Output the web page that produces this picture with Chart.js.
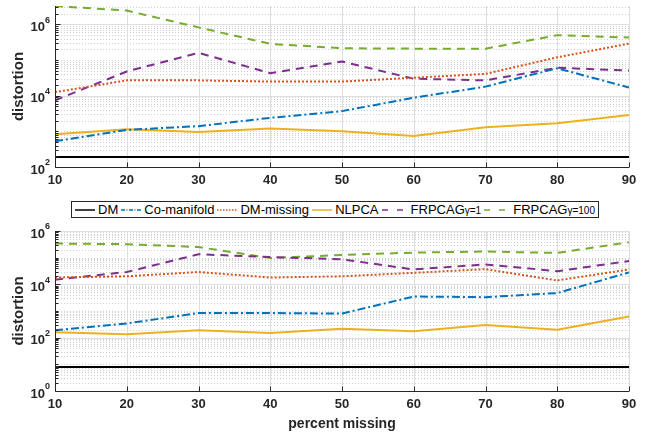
<!DOCTYPE html>
<html>
<head>
<meta charset="utf-8">
<script src="https://cdn.jsdelivr.net/npm/chart.js@4/dist/chart.umd.min.js"></script>
<style>
  html, body { margin:0; padding:0; background:#fff; }
  #wrap { position:relative; width:645px; height:434px; overflow:hidden; font-family:'Liberation Sans', Arial, Helvetica, sans-serif; }
  canvas { position:absolute; left:0; }
  #legend { position:absolute; z-index:2; left:71px; top:201px; width:528px; height:17px; border:1px solid #262626; background:#fff; box-sizing:border-box;
    font-size:13px; color:#000; white-space:nowrap; display:flex; align-items:center; justify-content:space-between; padding:0 3px 0 3px; }
  #legend .it { display:flex; align-items:center; }
  #legend svg { margin-right:3px; }
  #legend span { line-height:15px; }
  #legend small { font-size:10px; }
</style>
</head>
<body>
<div id="wrap">
  <canvas id="c1" width="645" height="195" style="top:0;width:645px;height:195px"></canvas>
  <canvas id="c2" width="645" height="219" style="top:215px;width:645px;height:219px"></canvas>
  <div id="legend"></div>
</div>
<script>
// ---------------- data ----------------
const percentMissing = [10, 20, 30, 40, 50, 60, 70, 80, 90];
const seriesNames = ['DM', 'Co-manifold', 'DM-missing', 'NLPCA', 'FRPCAG\u03b3=1', 'FRPCAG\u03b3=100'];

// top panel
const dmTop        = [190, 190, 190, 190, 190, 190, 190, 190, 190];
const comanTop     = [525, 1100, 1400, 2400, 3700, 8800, 18000, 59000, 17000];
const dmMissTop    = [12600, 27000, 27000, 25000, 25000, 32000, 41000, 120000, 290000];
const nlpcaTop     = [830, 1140, 955, 1200, 1000, 740, 1300, 1700, 2900];
const frpcag1Top   = [7400, 48000, 160000, 43000, 91000, 30000, 27000, 61000, 51000];
const frpcag100Top = [3300000, 2450000, 830000, 286000, 215000, 210000, 210000, 500000, 430000];

// bottom panel
const dmBot        = [7.9, 7.9, 7.9, 7.9, 7.9, 7.9, 7.9, 7.9, 7.9];
const comanBot     = [190, 340, 840, 840, 800, 3500, 3300, 4700, 28000];
const dmMissBot    = [18000, 20000, 29000, 18000, 20000, 27000, 37000, 14000, 36000];
const nlpcaBot     = [160, 134, 190, 150, 218, 174, 297, 200, 620];
const frpcag1Bot   = [15000, 29000, 134000, 106000, 87000, 36000, 56000, 31000, 75000];
const frpcag100Bot = [340000, 320000, 250000, 97000, 126000, 155000, 170000, 150000, 380000];

const yLabelExponents = [0, 2, 4, 6];

// ---------------- styles ----------------
const FONT = "'Liberation Sans', Arial, Helvetica, sans-serif";
const styles = [
  { color: '#000000', dash: [], legendDash: [], lw: 20 },
  { color: '#0072BD', dash: [8, 3, 2, 3], legendDash: [4, 1.5, 1, 1.5], lw: 20 },
  { color: '#D95319', dash: [2, 2], legendDash: [1.5, 1.5], lw: 20 },
  { color: '#EDB120', dash: [], legendDash: [], lw: 20 },
  { color: '#7E2F8E', dash: [8, 6], legendDash: [6, 9], lw: 26 },
  { color: '#77AC30', dash: [8, 6], legendDash: [6, 9], lw: 26 }
];

function makeDatasets(arrs) {
  return arrs.map((vals, i) => ({
    label: seriesNames[i],
    data: percentMissing.map((p, j) => ({ x: p, y: vals[j] })),
    borderColor: styles[i].color,
    borderDash: styles[i].dash,
    borderWidth: 2,
    borderCapStyle: 'butt',
    pointRadius: 0,
    fill: false,
    tension: 0
  }));
}

const AX = '#262626';

const matlabAxes = {
  id: 'matlabAxes',
  beforeDatasetsDraw(chart) {
    const { ctx, chartArea: a, scales: { x, y } } = chart;
    ctx.save();
    const lo = Math.floor(Math.log10(y.min)), hi = Math.ceil(Math.log10(y.max));
    ctx.lineWidth = 1;
    for (let d = lo; d <= hi; d++) {
      for (let m = 1; m <= 9; m++) {
        const v = m * Math.pow(10, d);
        if (v < y.min * 0.999 || v > y.max * 1.001) continue;
        const major = (m === 1 && d % 2 === 0);
        const py = Math.round(y.getPixelForValue(v)) + 0.5;
        ctx.beginPath();
        if (major) { ctx.setLineDash([]); ctx.strokeStyle = '#dedede'; }
        else { ctx.setLineDash([1, 2]); ctx.strokeStyle = '#cfcfcf'; }
        ctx.moveTo(a.left, py); ctx.lineTo(a.right, py); ctx.stroke();
      }
    }
    ctx.setLineDash([]);
    ctx.strokeStyle = '#dedede';
    percentMissing.forEach(p => {
      const px = Math.round(x.getPixelForValue(p)) + 0.5;
      ctx.beginPath(); ctx.moveTo(px, a.top); ctx.lineTo(px, a.bottom); ctx.stroke();
    });
    ctx.restore();
  },
  afterDatasetsDraw(chart, args, opts) {
    const { ctx, chartArea: a, scales: { x, y } } = chart;
    ctx.save();
    ctx.setLineDash([]);
    ctx.strokeStyle = AX;
    ctx.lineWidth = 1;
    const L = Math.round(a.left) + 0.5, B = Math.round(a.bottom) + 0.5;
    ctx.beginPath();
    ctx.moveTo(L, a.top); ctx.lineTo(L, B); ctx.lineTo(a.right, B);
    ctx.stroke();
    const lo = Math.floor(Math.log10(y.min)), hi = Math.ceil(Math.log10(y.max));
    for (let d = lo; d <= hi; d++) {
      for (let m = 1; m <= 9; m++) {
        const v = m * Math.pow(10, d);
        if (v < y.min * 0.999 || v > y.max * 1.001) continue;
        const major = (m === 1 && d % 2 === 0);
        const py = Math.round(y.getPixelForValue(v)) + 0.5;
        ctx.beginPath(); ctx.moveTo(L, py); ctx.lineTo(L + (major ? 5 : 3), py); ctx.stroke();
      }
    }
    percentMissing.forEach(p => {
      const px = Math.round(x.getPixelForValue(p)) + 0.5;
      ctx.beginPath(); ctx.moveTo(px, B); ctx.lineTo(px, B - 5); ctx.stroke();
    });
    ctx.fillStyle = AX;
    ctx.font = 'bold 13px ' + FONT;
    ctx.textAlign = 'center'; ctx.textBaseline = 'middle';
    percentMissing.forEach(p => {
      ctx.fillText(String(p), x.getPixelForValue(p), a.bottom + 13);
    });
    yLabelExponents.forEach(e => {
      const v = Math.pow(10, e);
      if (v < y.min * 0.999 || v > y.max * 1.001) return;
      const py = y.getPixelForValue(v);
      ctx.font = 'bold 9px ' + FONT;
      const ew = ctx.measureText(String(e)).width;
      ctx.textAlign = 'left'; ctx.textBaseline = 'middle';
      const right = a.left - 5;
      ctx.fillText(String(e), right - ew, py - 4);
      ctx.font = 'bold 13px ' + FONT;
      ctx.textAlign = 'right';
      ctx.fillText('10', right - ew, py + 3);
    });
    ctx.save();
    ctx.font = 'bold 15px ' + FONT;
    ctx.textAlign = 'center'; ctx.textBaseline = 'middle';
    ctx.translate(19, (a.top + a.bottom) / 2);
    ctx.rotate(-Math.PI / 2);
    ctx.fillText('distortion', 0, 0);
    ctx.restore();
    if (opts && opts.xTitle) {
      ctx.font = 'bold 14px ' + FONT;
      ctx.textAlign = 'center'; ctx.textBaseline = 'middle';
      ctx.fillText(opts.xTitle, (a.left + a.right) / 2, a.bottom + 33);
    }
    ctx.restore();
  }
};

function makeChart(id, arrs, ymin, ymax, padTop, xAxisHeight, xTitle) {
  return new Chart(document.getElementById(id), {
    type: 'line',
    data: { datasets: makeDatasets(arrs) },
    options: {
      responsive: false,
      animation: false,
      devicePixelRatio: 1,
      events: [],
      layout: { padding: { top: padTop, right: 16, left: 0, bottom: 0 } },
      plugins: { legend: { display: false }, tooltip: { enabled: false }, matlabAxes: { xTitle: xTitle } },
      scales: {
        x: {
          type: 'linear', min: 10, max: 90,
          grid: { display: false }, border: { display: false },
          ticks: { display: false },
          afterFit(s) { s.height = xAxisHeight; }
        },
        y: {
          type: 'logarithmic', min: ymin, max: ymax,
          grid: { display: false }, border: { display: false },
          ticks: { display: false },
          afterFit(s) { s.width = 55; }
        }
      }
    },
    plugins: [matlabAxes]
  });
}

makeChart('c1', [dmTop, comanTop, dmMissTop, nlpcaTop, frpcag1Top, frpcag100Top], 100, 3300000, 6, 28, null);
makeChart('c2', [dmBot, comanBot, dmMissBot, nlpcaBot, frpcag1Bot, frpcag100Bot], 1, 1000000, 16, 43, 'percent missing');

// legend
const legend = document.getElementById('legend');
styles.forEach((s, i) => {
  const it = document.createElement('div');
  it.className = 'it';
  const w = s.lw;
  const dashAttr = s.legendDash.length ? ` stroke-dasharray="${s.legendDash.join(',')}"` : '';
  it.innerHTML = `<svg width="${w}" height="8"><line x1="0" y1="4" x2="${w}" y2="4" stroke="${s.color}" stroke-width="1.5"${dashAttr}/></svg>`;
  const t = document.createElement('span');
  if (i >= 4) {
    t.innerHTML = 'FRPCAG<small>\u03b3=' + (i === 4 ? '1' : '100') + '</small>';
  } else {
    t.textContent = seriesNames[i];
  }
  it.appendChild(t);
  legend.appendChild(it);
});
</script>
</body>
</html>
